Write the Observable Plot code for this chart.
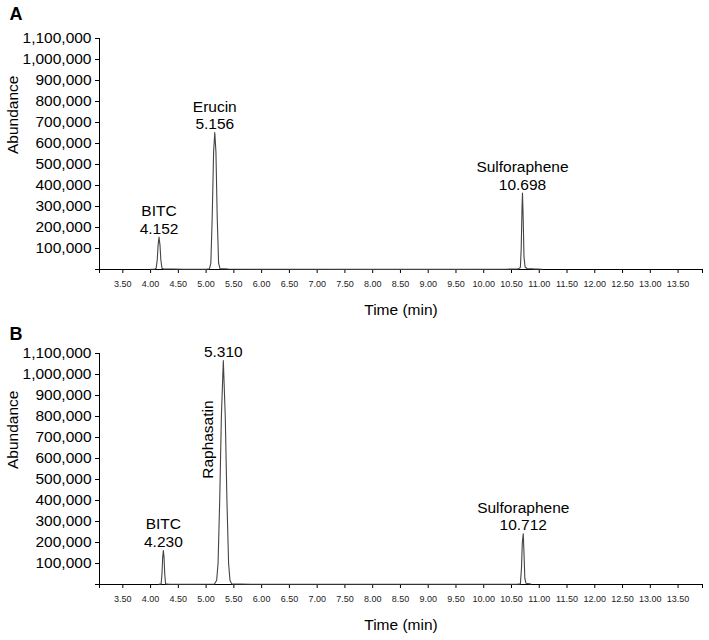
<!DOCTYPE html>
<html>
<head>
<meta charset="utf-8">
<script src="https://cdn.jsdelivr.net/npm/d3@7"></script>
<script src="https://cdn.jsdelivr.net/npm/@observablehq/plot@0.6"></script>
<style>
  html, body { margin: 0; padding: 0; background: #fff; }
  #chart svg { display: block; }
</style>
</head>
<body>
<div id="chart"></div>
<script>
// ---- Data ----
// X axis tick labels (min)
const xTickLabels = [3.5, 4.0, 4.5, 5.0, 5.5, 6.0, 6.5, 7.0, 7.5, 8.0, 8.5, 9.0, 9.5, 10.0, 10.5, 11.0, 11.5, 12.0, 12.5, 13.0, 13.5];
const xDomain = [3.08, 13.94];
// Y axis ticks (abundance)
const yTicks = [0, 100000, 200000, 300000, 400000, 500000, 600000, 700000, 800000, 900000, 1000000, 1100000];

// Panel A trace
const timeA = [4.00, 4.08, 4.10, 4.12, 4.135, 4.152, 4.17, 4.185, 4.205, 4.23, 4.40, 4.60, 5.00, 5.06, 5.085, 5.11, 5.135, 5.156, 5.177, 5.20, 5.225, 5.25, 5.40, 5.80, 6.50, 8.00, 9.50, 10.40, 10.62, 10.66, 10.675, 10.69, 10.698, 10.71, 10.725, 10.745, 10.78, 10.90, 11.05];
const abundA = [1500, 2500, 6000, 45000, 115000, 154000, 115000, 45000, 6000, 3000, 2500, 1500, 1500, 3000, 30000, 250000, 560000, 652000, 560000, 250000, 30000, 4000, 2500, 1500, 1000, 800, 800, 1500, 2500, 10000, 100000, 300000, 364000, 250000, 60000, 12000, 5000, 3000, 1500];
// Panel A peak labels
const peakNamesA = ["BITC", "Erucin", "Sulforaphene"];
const peakTimesA = [4.152, 5.156, 10.698];
const peakHeightsA = [154000, 652000, 364000];

// Panel B trace
const timeB = [4.15, 4.19, 4.205, 4.218, 4.230, 4.242, 4.255, 4.27, 4.32, 4.80, 5.15, 5.19, 5.215, 5.245, 5.275, 5.31, 5.345, 5.375, 5.405, 5.43, 5.46, 5.80, 7.00, 9.00, 10.60, 10.66, 10.68, 10.695, 10.712, 10.725, 10.74, 10.76, 10.85];
const abundB = [1500, 3000, 50000, 130000, 162000, 130000, 50000, 3000, 2000, 1500, 2500, 20000, 100000, 400000, 800000, 1066000, 800000, 400000, 100000, 20000, 3000, 1500, 1000, 1000, 1500, 3000, 80000, 200000, 242000, 150000, 30000, 6000, 2500];
// Panel B peak labels
const peakNamesB = ["BITC", "", "Sulforaphene"];
const peakTimesB = [4.230, 5.310, 10.712];
const peakHeightsB = [162000, 1066000, 242000];
const rotatedNameB = "Raphasatin";
const rotatedNameTimeB = 5.310;
const rotatedNameYB = 690000;

const FONT = "'Liberation Sans', Arial, Helvetica, sans-serif";

function panel({letter, time, abund, names, times, heights, marginTop, marginBottom, extra = []}) {
  const trace = time.map((t, i) => ({t, a: abund[i]}));
  const peaks = times.map((t, i) => ({t, h: heights[i], name: names[i], rt: t.toFixed(3)}));
  const xTicks = [xDomain[0], ...xTickLabels, xDomain[1]];
  return Plot.plot({
    width: 709,
    height: 320,
    marginLeft: 99,
    marginRight: 7,
    marginTop,
    marginBottom,
    style: {fontFamily: FONT, background: "#fff", color: "#000", overflow: "visible"},
    x: {domain: xDomain},
    y: {domain: [0, 1100000]},
    marks: [
      Plot.axisX({
        ticks: xTicks,
        tickFormat: d => (d >= 3.49 && d <= 13.51) ? d.toFixed(2) : "",
        tickSize: 4,
        tickPadding: 7,
        fontSize: 9,
        label: null,
        stroke: "#000",
        fill: "#222"
      }),
      Plot.axisY({
        ticks: yTicks,
        tickFormat: d => d === 0 ? "" : d3.format(",")(d),
        tickSize: 4,
        tickPadding: 4,
        fontSize: 15.5,
        label: null,
        stroke: "#000",
        fill: "#000"
      }),
      Plot.ruleY([0], {stroke: "#000", strokeWidth: 1}),
      Plot.ruleX([xDomain[0]], {y1: 0, y2: 1100000, stroke: "#000", strokeWidth: 1}),
      Plot.line(trace, {x: "t", y: "a", stroke: "#444", strokeWidth: 1.1}),
      Plot.text(peaks.filter(d => d.name), {x: "t", y: "h", text: "name", dy: -26, fontSize: 15.5, lineAnchor: "middle", fill: "#000"}),
      Plot.text(peaks, {x: "t", y: "h", text: "rt", dy: -8.5, fontSize: 15.5, lineAnchor: "middle", fill: "#000"}),
      Plot.text(["Abundance"], {frameAnchor: "left", rotate: -90, dx: -86, fontSize: 15.5, fill: "#000"}),
      Plot.text(["Time (min)"], {frameAnchor: "bottom", dy: 41, fontSize: 15.5, lineAnchor: "middle", fill: "#000"}),
      Plot.text([letter], {frameAnchor: "top-left", dx: -90, dy: -(marginTop - 7), fontSize: 18, fontWeight: "bold", textAnchor: "start", lineAnchor: "top", fill: "#000"}),
      ...extra
    ]
  });
}

const chart = document.getElementById("chart");
chart.append(panel({
  letter: "A", time: timeA, abund: abundA,
  names: peakNamesA, times: peakTimesA, heights: peakHeightsA,
  marginTop: 38, marginBottom: 51
}));
chart.append(panel({
  letter: "B", time: timeB, abund: abundB,
  names: peakNamesB, times: peakTimesB, heights: peakHeightsB,
  marginTop: 33, marginBottom: 56,
  extra: [
    Plot.text([rotatedNameB], {x: () => rotatedNameTimeB, y: () => rotatedNameYB, rotate: -90, dx: -15, fontSize: 15.5, fill: "#000"})
  ]
}));
</script>
</body>
</html>
